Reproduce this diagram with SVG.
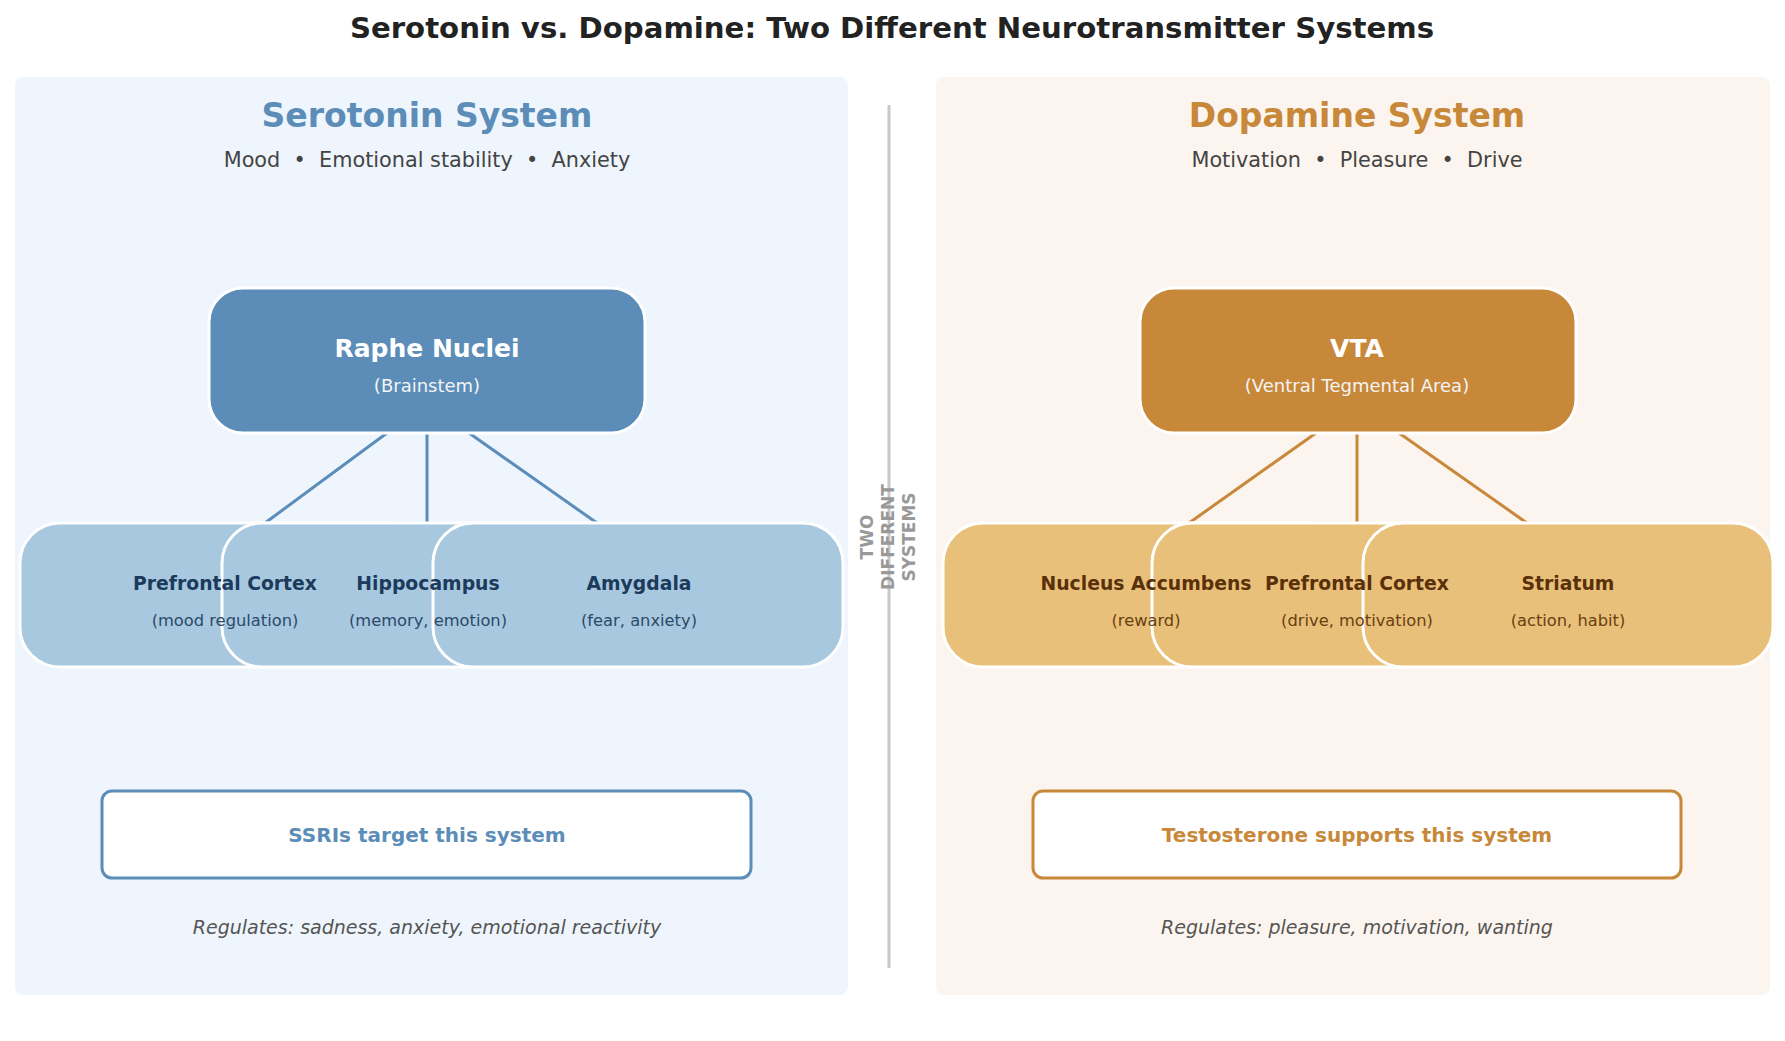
<svg xmlns="http://www.w3.org/2000/svg" width="1785" height="1041" viewBox="0 0 1785 1041">
<style>
text{font-family:"DejaVu Sans","Noto Sans",sans-serif;text-anchor:middle}
.t{font-size:29.2px;font-weight:bold;fill:#222}
.h{font-size:33px;font-weight:bold}
.s{font-size:20.8px;fill:#444;white-space:pre}
.nb{stroke:#fff;stroke-width:3}
.n1{font-size:25px;font-weight:bold;fill:#fff}
.n2{font-size:18px;fill:#f4f4f4}
.c1{font-size:18.8px;font-weight:bold}
.c2{font-size:16.3px}
.reg{font-size:19px;font-style:italic;fill:#555}
.bx{font-size:20px;font-weight:bold}
</style>
<rect width="1785" height="1041" fill="#fff"/>
<text class="t" x="892" y="38">Serotonin vs. Dopamine: Two Different Neurotransmitter Systems</text>
<rect x="15" y="77" width="833" height="918" rx="8" fill="#eff5fc"/>
<rect x="936" y="77" width="834" height="918" rx="8" fill="#fcf5ef"/>
<text class="h" x="427" y="127" fill="#5b8db8">Serotonin System</text>
<text class="s" x="427" y="167" xml:space="preserve">Mood  •  Emotional stability  •  Anxiety</text>
<text class="h" x="1357" y="127" fill="#c8883a">Dopamine System</text>
<text class="s" x="1357" y="167" xml:space="preserve">Motivation  •  Pleasure  •  Drive</text>
<line x1="889" y1="105" x2="889" y2="968" stroke="#c8c8c8" stroke-width="3"/>
<g font-size="17" font-weight="bold" fill="#999">
<text transform="translate(873,537) rotate(-90)">TWO</text>
<text transform="translate(894,537) rotate(-90)">DIFFERENT</text>
<text transform="translate(915,537) rotate(-90)">SYSTEMS</text>
</g>
<g id="connectors" stroke-width="3">
<g stroke="#5b8db8"><line x1="387" y1="433" x2="265" y2="523"/><line x1="427" y1="433" x2="427" y2="523"/><line x1="469" y1="433" x2="597" y2="523"/></g>
<g stroke="#c8883a"><line x1="1316" y1="433" x2="1189" y2="523"/><line x1="1357" y1="433" x2="1357" y2="523"/><line x1="1399" y1="433" x2="1527" y2="523"/></g>
</g>
<g id="raphe"><rect class="nb" x="209" y="288" width="436" height="145" rx="34" fill="#5b8db8"/>
<text class="n1" x="427" y="357">Raphe Nuclei</text><text class="n2" x="427" y="392">(Brainstem)</text></g>
<g id="pfc1"><rect class="nb" x="20" y="523" width="410" height="144" rx="40" fill="#a8c8df"/></g>
<g id="hippo"><rect class="nb" x="222" y="523" width="410" height="144" rx="40" fill="#a8c8df"/></g>
<g id="amyg"><rect class="nb" x="433" y="523" width="410" height="144" rx="40" fill="#a8c8df"/></g>
<g id="serotonin-target-labels">
<text class="c1" x="225" y="590" fill="#1b3a5c">Prefrontal Cortex</text><text class="c2" x="225" y="626" fill="#2c4a6a">(mood regulation)</text>
<text class="c1" x="428" y="590" fill="#1b3a5c">Hippocampus</text><text class="c2" x="428" y="626" fill="#2c4a6a">(memory, emotion)</text>
<text class="c1" x="639" y="590" fill="#1b3a5c">Amygdala</text><text class="c2" x="639" y="626" fill="#2c4a6a">(fear, anxiety)</text>
</g>
<g id="ssri"><rect x="102" y="791" width="649" height="87" rx="10" fill="#fff" stroke="#5b8db8" stroke-width="3"/>
<text class="bx" x="427" y="842" fill="#5b8db8">SSRIs target this system</text></g>
<text class="reg" x="427" y="934">Regulates: sadness, anxiety, emotional reactivity</text>
<g id="vta"><rect class="nb" x="1140" y="288" width="436" height="145" rx="34" fill="#c8883a"/>
<text class="n1" x="1357" y="357">VTA</text><text class="n2" x="1357" y="392">(Ventral Tegmental Area)</text></g>
<g id="nacc"><rect class="nb" x="943" y="523" width="410" height="144" rx="40" fill="#e8c07a"/></g>
<g id="pfc2"><rect class="nb" x="1152" y="523" width="410" height="144" rx="40" fill="#e8c07a"/></g>
<g id="striatum"><rect class="nb" x="1363" y="523" width="410" height="144" rx="40" fill="#e8c07a"/></g>
<g id="dopamine-target-labels">
<text class="c1" x="1146" y="590" fill="#5a300a">Nucleus Accumbens</text><text class="c2" x="1146" y="626" fill="#6a4010">(reward)</text>
<text class="c1" x="1357" y="590" fill="#5a300a">Prefrontal Cortex</text><text class="c2" x="1357" y="626" fill="#6a4010">(drive, motivation)</text>
<text class="c1" x="1568" y="590" fill="#5a300a">Striatum</text><text class="c2" x="1568" y="626" fill="#6a4010">(action, habit)</text>
</g>
<g id="testo"><rect x="1033" y="791" width="648" height="87" rx="10" fill="#fff" stroke="#c8883a" stroke-width="3"/>
<text class="bx" x="1357" y="842" fill="#c8883a">Testosterone supports this system</text></g>
<text class="reg" x="1357" y="934">Regulates: pleasure, motivation, wanting</text>
</svg>
